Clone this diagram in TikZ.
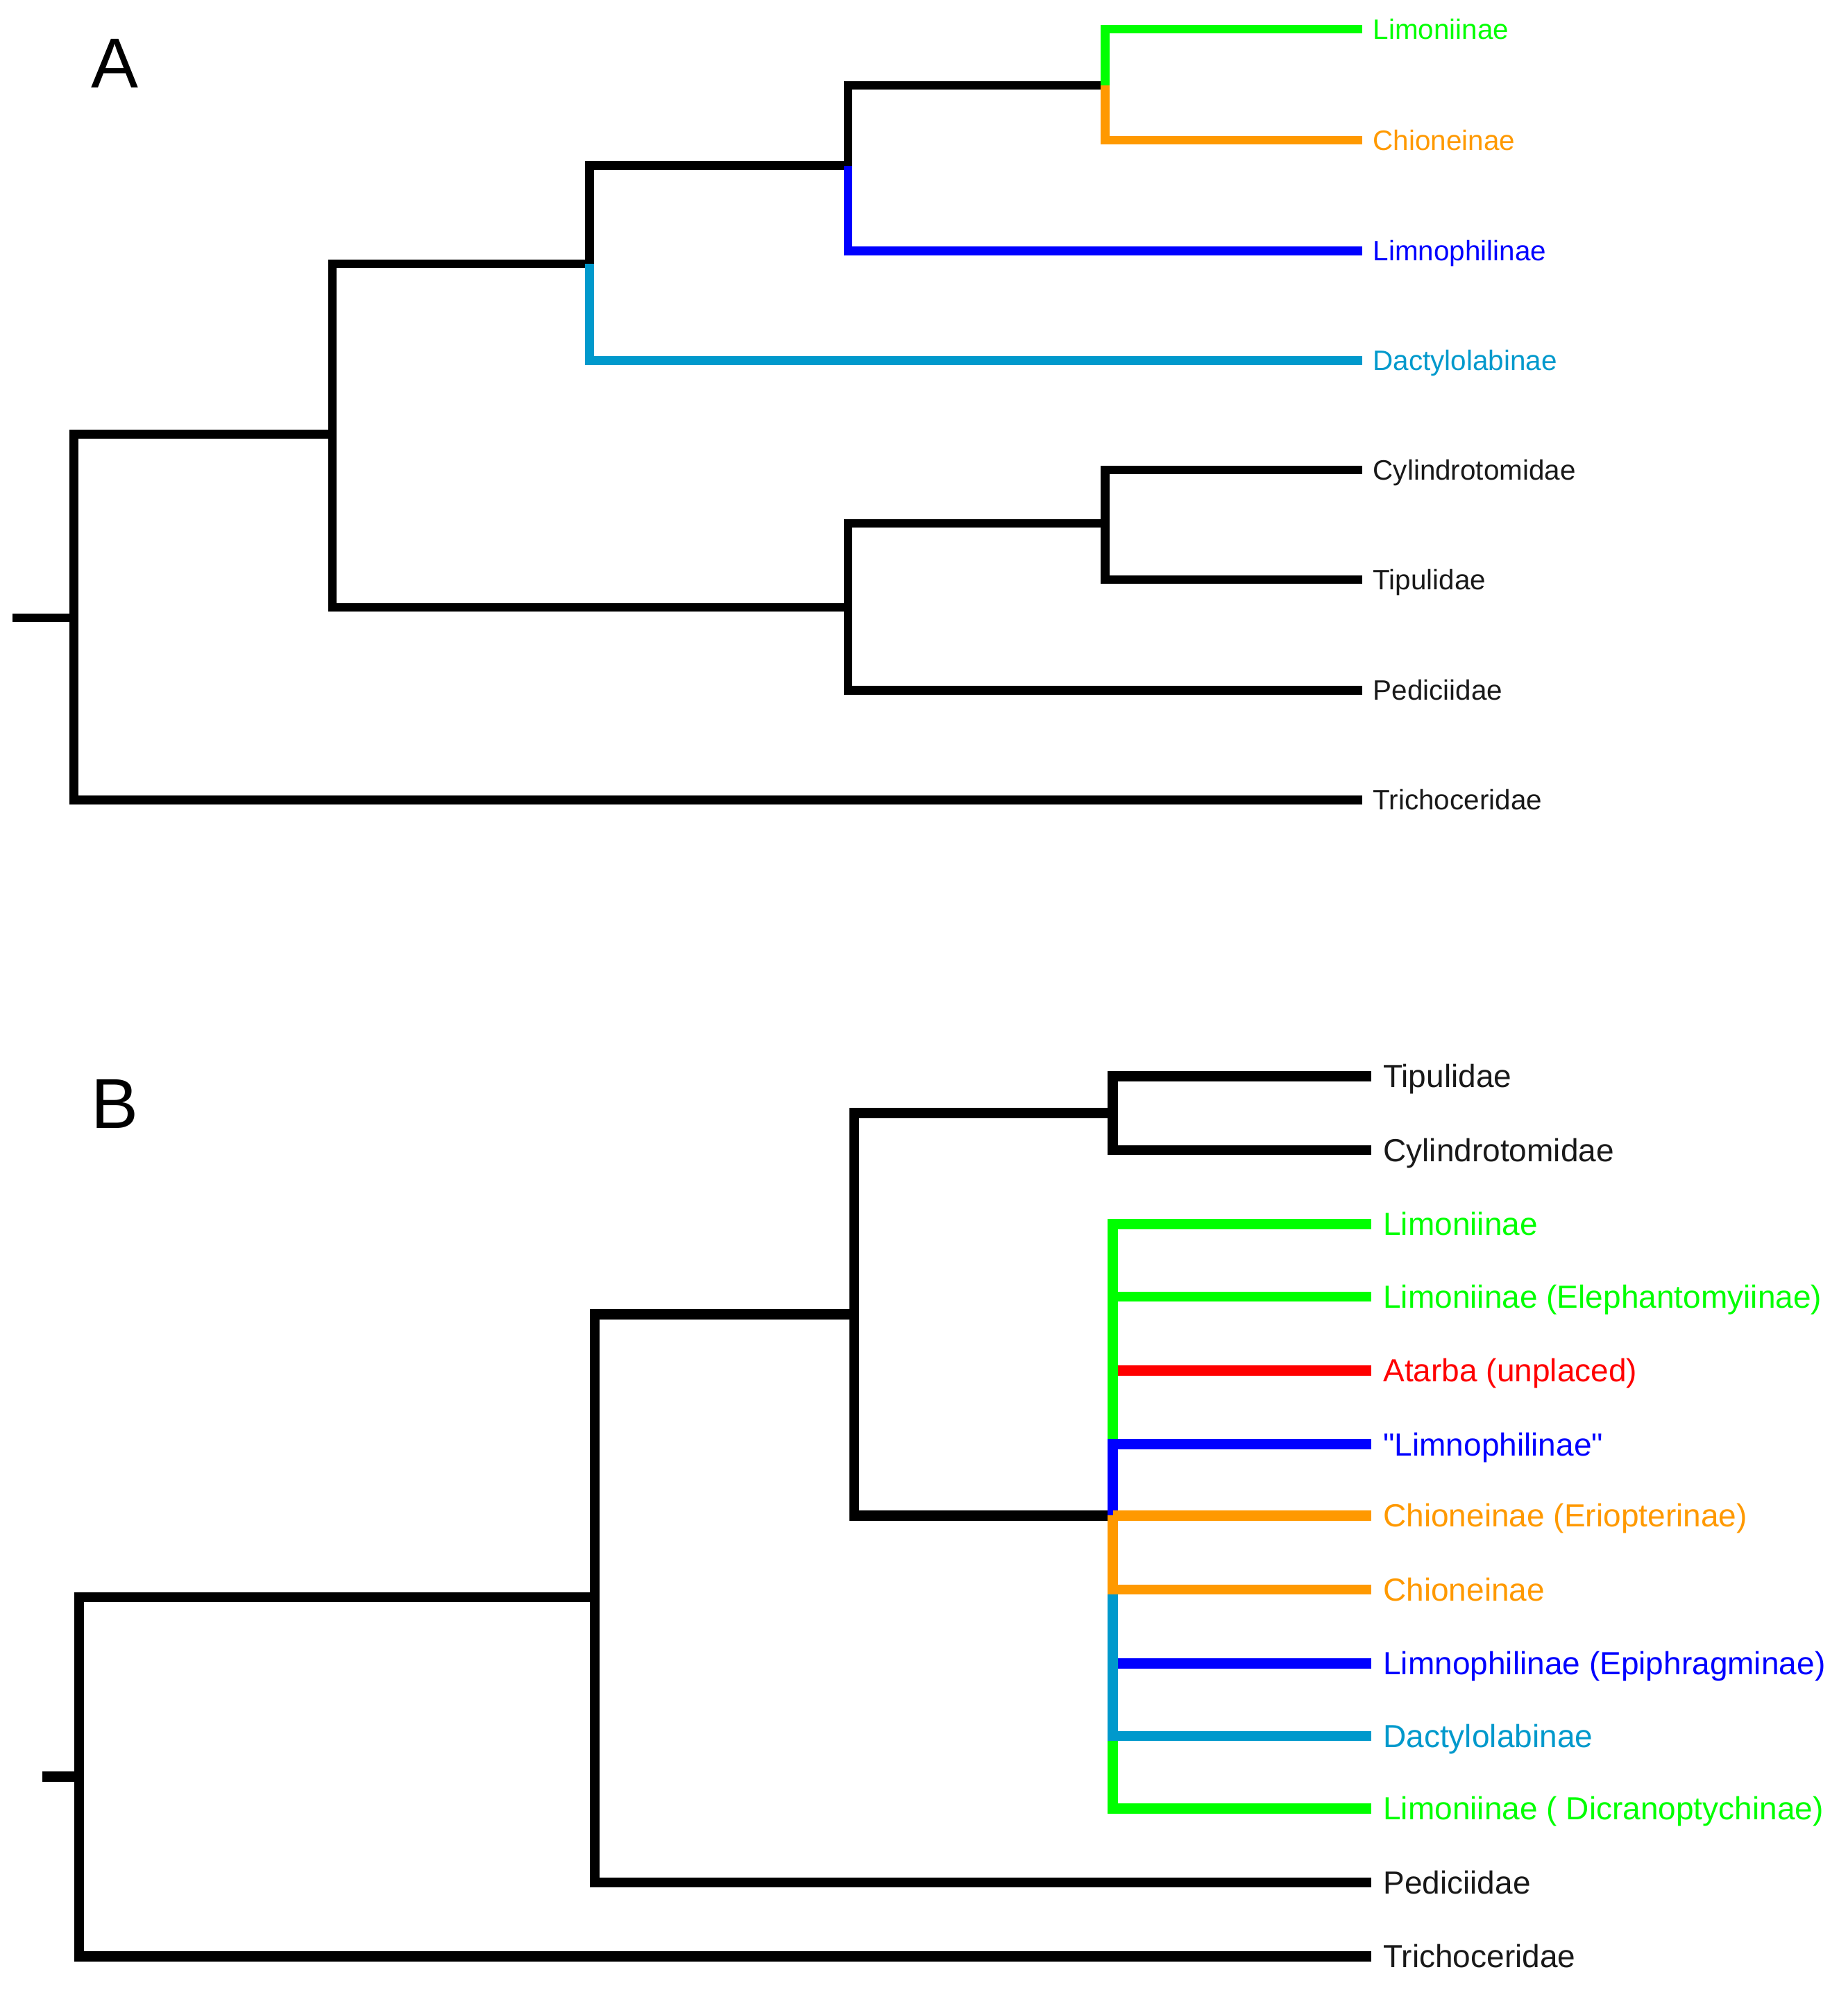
\documentclass[tikz,border=0pt]{standalone}
\usepackage{fontspec}
\setmainfont{Liberation Sans}
\usepackage{xcolor}
\usepackage{tikz}
\definecolor{limgreen}{RGB}{0,255,0}
\definecolor{chiorange}{RGB}{255,153,0}
\definecolor{limblue}{RGB}{0,0,255}
\definecolor{dactblue}{RGB}{0,153,204}
\definecolor{atared}{RGB}{255,0,0}
\definecolor{txtgray}{RGB}{25,25,25}

\begin{document}
\begin{tikzpicture}[x=0.1835mm,y=-0.1835mm,
  brA/.style={line width=1.25mm},
  brB/.style={line width=1.45mm},
  tipA/.style={anchor=west,inner xsep=1.47mm,inner ysep=0pt,text height=8.2pt,text depth=0pt,font=\fontsize{11.5}{13}\selectfont},
  tipB/.style={anchor=west,inner xsep=1.65mm,inner ysep=0pt,text height=9.4pt,text depth=0pt,font=\fontsize{13.1}{15}\selectfont},
  panel/.style={font=\fontsize{29}{33}\selectfont}]
  \useasboundingbox (0,0) rectangle (1451,1568);
  \begin{scope}
    \node[panel] (labA) at (90,50) {A};
    \coordinate (sA) at (10,485);
    \coordinate (a1) at (58,485);
    \coordinate (a2) at (261,341);
    \coordinate (a3) at (463,207);
    \coordinate (a4) at (666,130);
    \coordinate (a5) at (868,67);
    \coordinate (a6) at (666,477);
    \coordinate (a7) at (868,411);
    \node[tipA,limgreen] (limoA) at (1070,23) {Limoniinae};
    \node[tipA,chiorange] (chioA) at (1070,110) {Chioneinae};
    \node[tipA,limblue] (limnA) at (1070,197) {Limnophilinae};
    \node[tipA,dactblue] (dactA) at (1070,283) {Dactylolabinae};
    \node[tipA,txtgray] (cylA) at (1070,369) {Cylindrotomidae};
    \node[tipA,txtgray] (tipuA) at (1070,455) {Tipulidae};
    \node[tipA,txtgray] (pedA) at (1070,542) {Pediciidae};
    \node[tipA,txtgray] (triA) at (1070,628) {Trichoceridae};
    \draw[brA] (sA) -- (a1);
    \draw[brA] (a1) |- (a2);
    \draw[brA] (a1) |- (triA.west);
    \draw[brA] (a2) |- (a3);
    \draw[brA] (a2) |- (a6);
    \draw[brA] (a3) |- (a4);
    \draw[brA,dactblue] (a3) |- (dactA.west);
    \draw[brA] (a4) |- (a5);
    \draw[brA,limblue] (a4) |- (limnA.west);
    \draw[brA,limgreen] (a5) |- (limoA.west);
    \draw[brA,chiorange] (a5) |- (chioA.west);
    \draw[brA] (a6) |- (a7);
    \draw[brA] (a6) |- (pedA.west);
    \draw[brA] (a7) |- (cylA.west);
    \draw[brA] (a7) |- (tipuA.west);
  \end{scope}
  \begin{scope}
    \node[panel] (labB) at (90,867) {B};
    \coordinate (sB) at (33,1395);
    \coordinate (b1) at (62,1395);
    \coordinate (b2) at (467,1254);
    \coordinate (b3) at (671,1032);
    \coordinate (b4) at (874,874);
    \coordinate (b5) at (874,1190);
    \node[tipB,txtgray] (tipuB) at (1077,845) {Tipulidae};
    \node[tipB,txtgray] (cylB) at (1077,903) {Cylindrotomidae};
    \node[tipB,limgreen] (limoB) at (1077,961) {Limoniinae};
    \node[tipB,limgreen] (eleB) at (1077,1018) {Limoniinae (Elephantomyiinae)};
    \node[tipB,atared] (ataB) at (1077,1076) {Atarba (unplaced)};
    \node[tipB,limblue] (limnB) at (1077,1134) {\textquotedbl Limnophilinae\textquotedbl};
    \node[tipB,chiorange] (erioB) at (1077,1190) {Chioneinae (Eriopterinae)};
    \node[tipB,chiorange] (chioB) at (1077,1248) {Chioneinae};
    \node[tipB,limblue] (epiB) at (1077,1306) {Limnophilinae (Epiphragminae)};
    \node[tipB,dactblue] (dactB) at (1077,1363) {Dactylolabinae};
    \node[tipB,limgreen] (dicB) at (1077,1420) {Limoniinae ( Dicranoptychinae)};
    \node[tipB,txtgray] (pedB) at (1077,1478) {Pediciidae};
    \node[tipB,txtgray] (triB) at (1077,1536) {Trichoceridae};
    \draw[brB] (sB) -- (b1);
    \draw[brB] (b1) |- (b2);
    \draw[brB] (b1) |- (triB.west);
    \draw[brB] (b2) |- (b3);
    \draw[brB] (b2) |- (pedB.west);
    \draw[brB] (b3) |- (b4);
    \draw[brB] (b3) |- (b5);
    \draw[brB] (b4) |- (tipuB.west);
    \draw[brB] (b4) |- (cylB.west);
    \draw[brB,limgreen] (b5) |- (limoB.west);
    \draw[brB,limgreen] (b5) |- (eleB.west);
    \draw[brB,atared] ([xshift=0.7mm]b5 |- ataB.west) -- (ataB.west);
    \draw[brB,limblue] (b5) |- (limnB.west);
    \draw[brB,limgreen] (b5) |- (dicB.west);
    \draw[brB,limblue] (b5) |- (epiB.west);
    \draw[brB,dactblue] (b5) |- (dactB.west);
    \draw[brB,chiorange] (b5) |- (chioB.west);
    \draw[brB,chiorange] (b5) -- (erioB.west);
  \end{scope}
\end{tikzpicture}
\end{document}
